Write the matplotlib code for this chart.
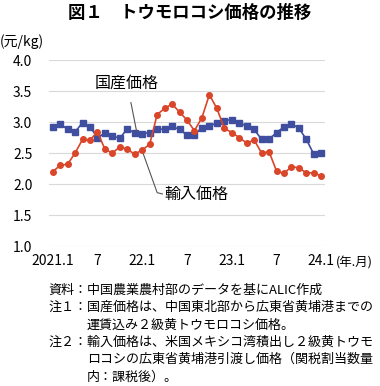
import numpy as np
import matplotlib
matplotlib.use("Agg")
import matplotlib.pyplot as plt

plt.rcParams['font.family'] = ['Noto Sans CJK JP', 'DejaVu Sans']

# monthly prices, 2021.1 - 2024.1 (yuan/kg)
domestic = [2.92, 2.97, 2.88, 2.84, 2.99, 2.92, 2.75, 2.82, 2.77, 2.74,
            2.89, 2.82, 2.81, 2.83, 2.88, 2.89, 2.93, 2.88, 2.79, 2.79,
            2.91, 2.94, 2.98, 3.02, 3.04, 2.98, 2.94, 2.88, 2.72, 2.72,
            2.83, 2.92, 2.97, 2.90, 2.72, 2.48, 2.50]
imported = [2.20, 2.30, 2.32, 2.50, 2.72, 2.71, 2.84, 2.56, 2.50, 2.60,
            2.56, 2.48, 2.55, 2.64, 3.12, 3.22, 3.29, 3.16, 3.03, 2.86,
            3.07, 3.44, 3.22, 2.90, 2.83, 2.75, 2.66, 2.71, 2.50, 2.52,
            2.21, 2.17, 2.28, 2.26, 2.18, 2.18, 2.13]
tick_pos = [0, 6, 12, 18, 24, 30, 36]
tick_labels = ["2021.1", "7", "22.1", "7", "23.1", "7", "24.1"]
y_ticks = [1.0, 1.5, 2.0, 2.5, 3.0, 3.5, 4.0]

notes = [
    (48, "資料：中国農業農村部のデータを基にALIC作成"),
    (48, "注１：国産価格は、中国東北部から広東省黄埔港までの"),
    (87, "運賃込み２級黄トウモロコシ価格。"),
    (48, "注２：輸入価格は、米国メキシコ湾積出し２級黄トウモ"),
    (87, "ロコシの広東省黄埔港引渡し価格（関税割当数量"),
    (87, "内：課税後）。"),
]

BLUE = "#3f4e9e"
RED = "#d9462a"

W, H = 380, 386
fig = plt.figure(figsize=(W / 100, H / 100), dpi=100)
ax = fig.add_axes([49 / W, 1 - 246 / H, 276 / W, 186 / H])

x = np.arange(len(domestic))
ax.plot(x, domestic, color=BLUE, marker="s", ms=4, lw=1.2, zorder=3)
ax.plot(x, imported, color=RED, marker="o", ms=4, lw=1.2, zorder=3)

ax.set_xlim(-0.5, len(domestic) - 0.5)
ax.set_ylim(1.0, 4.0)
ax.set_yticks(y_ticks)
ax.set_yticklabels([f"{v:.1f}" for v in y_ticks])
ax.set_xticks(tick_pos)
ax.set_xticklabels(tick_labels)
ax.tick_params(axis="both", length=0, labelsize=10)
ax.tick_params(axis="y", pad=12)
ax.tick_params(axis="x", pad=6)
ax.grid(axis="y", color="#d9d9d9", lw=0.8)
ax.set_axisbelow(True)
for s in ax.spines.values():
    s.set_visible(False)

# series labels with leader lines
ax.annotate("国産価格", xy=(11.26, 2.84), xytext=(9.96, 3.63),
            ha="center", va="center", fontsize=11.5,
            arrowprops=dict(arrowstyle="-", color="#555555", lw=0.8,
                            shrinkA=6, shrinkB=0))
ax.plot([12.1, 14.0, 14.7], [2.5, 1.86, 1.84], color="#555555", lw=0.8,
        clip_on=False)
ax.text(14.9, 1.83, "輸入価格", ha="left", va="center", fontsize=11.5)

fig.text(0.5, 1 - 13 / H, "図１　トウモロコシ価格の推移", ha="center",
         va="center", fontsize=12.5, fontweight="bold")
fig.text(0, 1 - 42 / H, "(元/kg)", ha="left", va="center", fontsize=10)
fig.text(336 / W, 1 - 263 / H, "(年.月)", ha="left", va="center", fontsize=9)

for i, (px, line) in enumerate(notes):
    fig.text(px / W, 1 - (290 + i * 17.4) / H, line, ha="left",
             va="center", fontsize=9.4)

fig.savefig("out.png", dpi=100)
